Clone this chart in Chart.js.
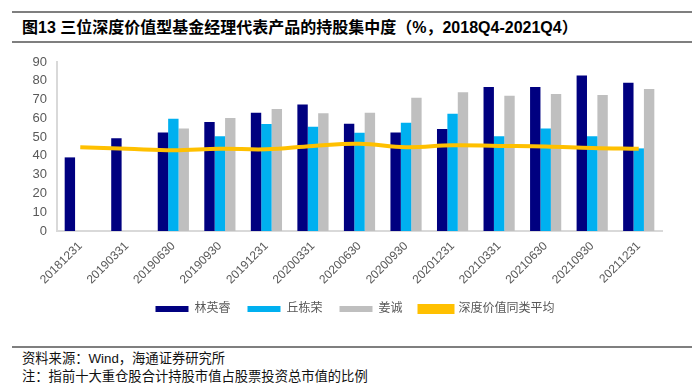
<!DOCTYPE html>
<html>
<head>
<meta charset="utf-8">
<script src="https://cdn.jsdelivr.net/npm/chart.js@4/dist/chart.umd.min.js"></script>
<style>
  html, body { margin: 0; padding: 0; background: #fff; }
  body { width: 700px; height: 392px; position: relative; overflow: hidden;
         font-family: "Liberation Sans", "Noto Sans CJK SC", sans-serif; }
  .rule { position: absolute; left: 12px; width: 680px; height: 2px; background: #7f7f7f; }
  #title { position: absolute; left: 22px; top: 18px; font-size: 16px; font-weight: bold; color: #000; white-space: nowrap; line-height: 20px; }
  .note { position: absolute; left: 22px; font-size: 13.3px; color: #111; white-space: nowrap; line-height: 16px; }
  #wrap { position: absolute; left: 0; top: 50px; width: 700px; height: 290px; }
</style>
</head>
<body>
<div class="rule" style="top:11px"></div>
<div id="title">图13 三位深度价值型基金经理代表产品的持股集中度（%，2018Q4-2021Q4）</div>
<div class="rule" style="top:41px"></div>
<div id="wrap"><canvas id="c"></canvas></div>
<div class="rule" style="top:346px"></div>
<div class="note" style="top:351px">资料来源：Wind，海通证券研究所</div>
<div class="note" style="top:369px">注：指前十大重仓股合计持股市值占股票投资总市值的比例</div>
<script>
const categories = ["20181231","20190331","20190630","20190930","20191231","20200331","20200630","20200930","20201231","20210331","20210630","20210930","20211231"];
const linYingrui = [39.2, 49.4, 52.5, 58, 63, 67.4, 57.1, 52.5, 54.3, 76.7, 76.7, 82.8, 79];
const qiuDongrong = [null, null, 59.8, 50.5, 57, 55.5, 52.3, 57.7, 62.4, 50.5, 54.6, 50.5, 44];
const jiangCheng = [null, null, 54.6, 60.2, 65, 62.7, 63, 71, 73.9, 72, 73, 72.4, 75.6];
const peerAverage = [44.6, 43.8, 43, 43.8, 43.5, 45.3, 46.4, 44.6, 45.6, 45.3, 45, 44.2, 43.8];
const seriesNames = ["林英睿", "丘栋荣", "姜诚", "深度价值同类平均"];
const yTicks = { min: 0, max: 90, step: 10 };

const FONT = '"Liberation Sans", "Noto Sans CJK SC", sans-serif';
const TXT = '#595959';

const legendShift = {
  id: 'legendShift',
  afterLayout(chart) {
    const lg = chart.legend;
    if (lg) { lg.left += 24; lg.right += 24; }
  }
};

new Chart(document.getElementById('c'), {
  data: {
    labels: categories,
    datasets: [
      { type: 'bar', label: seriesNames[0], data: linYingrui, backgroundColor: '#000080', order: 2 },
      { type: 'bar', label: seriesNames[1], data: qiuDongrong, backgroundColor: '#00B0F0', order: 2 },
      { type: 'bar', label: seriesNames[2], data: jiangCheng, backgroundColor: '#BFBFBF', order: 2 },
      { type: 'line', label: seriesNames[3], data: peerAverage, borderColor: '#FFC000', backgroundColor: '#FFC000',
        borderWidth: 4, pointRadius: 0, tension: 0.4, order: 1 }
    ]
  },
  plugins: [legendShift],
  options: {
    responsive: true,
    maintainAspectRatio: false,
    animation: false,
    datasets: { bar: { categoryPercentage: 0.67, barPercentage: 1.0 } },
    layout: { padding: { top: 12, right: 38, left: 0, bottom: 15 } },
    plugins: {
      tooltip: { enabled: false },
      legend: {
        position: 'bottom',
        labels: {
          boxWidth: 33, boxHeight: 6, padding: 17,
          color: TXT, font: { family: FONT, size: 12 },
          sort: (a, b) => a.datasetIndex - b.datasetIndex
        }
      }
    },
    scales: {
      x: {
        grid: { display: false, drawTicks: false },
        border: { color: '#D9D9D9', width: 2 },
        ticks: { color: TXT, font: { family: FONT, size: 12 }, minRotation: 45, maxRotation: 45, autoSkip: false, padding: 8 },
        afterFit: s => { s.height = 55; }
      },
      y: {
        min: yTicks.min, max: yTicks.max,
        grid: { display: false, drawTicks: false },
        border: { color: '#D9D9D9', width: 2 },
        ticks: { stepSize: yTicks.step, autoSkip: false, color: TXT, font: { family: FONT, size: 13 }, padding: 10 },
        afterFit: s => { s.width = 57; s.paddingTop = 0; s.paddingBottom = 0; }
      }
    }
  }
});
</script>
</body>
</html>
